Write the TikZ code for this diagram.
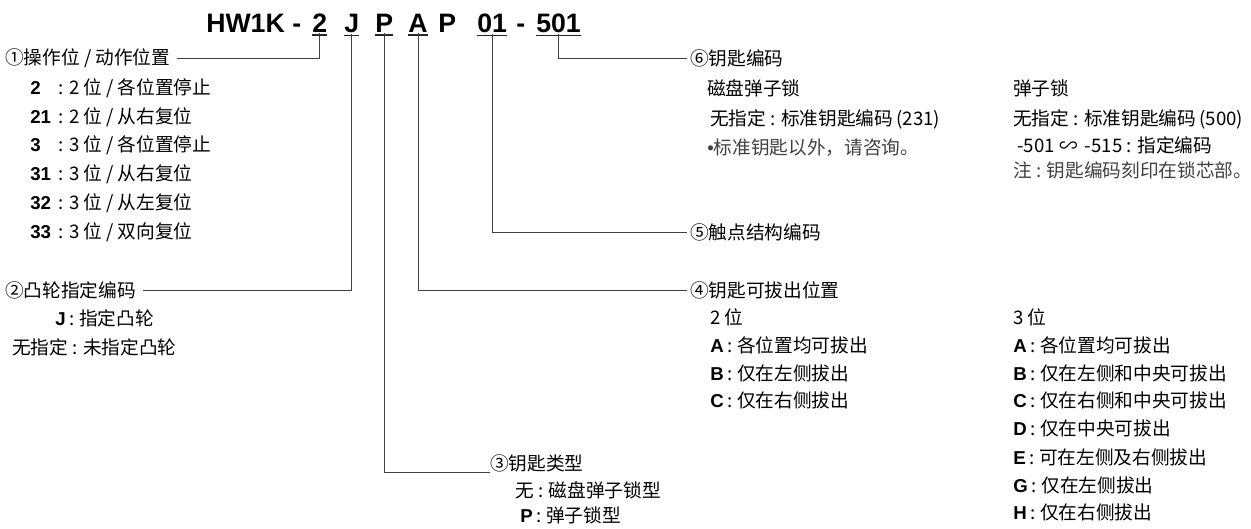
\documentclass[tikz,border=0pt]{standalone}
\usepackage{fontspec}
\setmainfont{Noto Sans CJK SC}
\newfontfamily\lat{Liberation Sans}
\newcommand{\clave}[1]{{\lat\bfseries #1}}

\begin{document}
\begin{tikzpicture}[x=0.75pt,y=-0.75pt,
	txt/.style={anchor=west,inner sep=0pt,font=\fontsize{14}{16}\selectfont},
	nota/.style={txt,text=black!75},
	cod/.style={anchor=base west,inner sep=0pt,font=\lat\bfseries\fontsize{20}{24}\selectfont},
	guia/.style={draw=black!75,line width=0.6pt},
	raya/.style={draw=black!85,line width=0.9pt}]
	
	\useasboundingbox (0,0) rectangle (1251,528);
	
	% Modelo
	\node[cod] (hw) at (206,33) {HW1K};
	\node[cod] (g1) at (292,33) {-};
	\node[cod] (c2) at (312,33) {2};
	\node[cod] (cJ) at (344,33) {J};
	\node[cod] (cP) at (375,33) {P};
	\node[cod] (cA) at (408,33) {A};
	\node[cod] (cPb) at (438,33) {P};
	\node[cod] (c01) at (477,33) {01};
	\node[cod] (g2) at (516,33) {-};
	\node[cod] (c501) at (536,33) {501};
	
	% Subrayados
	\draw[raya] ([yshift=-1.3pt]c2.south west) -- ([yshift=-1.3pt]c2.south east);
	\draw[raya] ([yshift=-1.3pt]cJ.south west) -- ([yshift=-1.3pt]cJ.south east);
	\draw[raya] ([yshift=-1.3pt]cP.south west) -- ([yshift=-1.3pt]cP.south east);
	\draw[raya] ([yshift=-1.3pt]cA.south west) -- ([yshift=-1.3pt]cA.south east);
	\draw[raya] ([yshift=-1.3pt]c01.south west) -- ([yshift=-1.3pt]c01.south east);
	\draw[raya] ([yshift=-1.3pt]c501.south west) -- ([yshift=-1.3pt]c501.south east);
	
	% Titulos
	\node[txt] (t1) at (5,58.5) {①操作位 / 动作位置};
	\node[txt] (t2) at (5,290) {②凸轮指定编码};
	\node[txt] (t3) at (490,463) {③钥匙类型};
	\node[txt] (t4) at (690,290) {④钥匙可拔出位置};
	\node[txt] (t5) at (690,232) {⑤触点结构编码};
	\node[txt] (t6) at (690,58) {⑥钥匙编码};
	
	% Guias
	\draw[guia,shorten >=5pt] (c2.south) |- (t1.east);
	\draw[guia,shorten >=5pt] (cJ.south) |- (t2.east);
	\draw[guia] (cP.south) |- (t3.south west);
	\draw[guia,shorten >=2pt] (cA.south) |- (t4.west);
	\draw[guia,shorten >=2pt] (c01.south) |- (t5.west);
	\draw[guia,shorten >=2pt] (c501.south) |- (t6.west);
	
	% Posiciones
	\node[txt] (r2) at (30,88) {\clave{2\phantom{1}}\, : 2 位 / 各位置停止};
	\node[txt] (r21) at (30,116.8) {\clave{21}\, : 2 位 / 从右复位};
	\node[txt] (r3) at (30,145.6) {\clave{3\phantom{1}}\, : 3 位 / 各位置停止};
	\node[txt] (r31) at (30,174.4) {\clave{31}\, : 3 位 / 从右复位};
	\node[txt] (r32) at (30,203.2) {\clave{32}\, : 3 位 / 从左复位};
	\node[txt] (r33) at (30,232) {\clave{33}\, : 3 位 / 双向复位};
	
	% Leva
	\node[txt] (rJ) at (55,318) {\clave{J} : 指定凸轮};
	\node[txt] (rJn) at (12,347) {无指定 : 未指定凸轮};
	
	% Tipo de llave
	\node[txt] (rPn) at (515,490) {无 : 磁盘弹子锁型};
	\node[txt] (rP) at (520,515) {\clave{P} : 弹子锁型};
	
	% Extraccion, 2 posiciones
	\node[txt] (p2) at (710,317) {2 位};
	\node[txt] (p2A) at (710,345) {\clave{A} : 各位置均可拔出};
	\node[txt] (p2B) at (710,373) {\clave{B} : 仅在左侧拔出};
	\node[txt] (p2C) at (710,400) {\clave{C} : 仅在右侧拔出};
	
	% Extraccion, 3 posiciones
	\node[txt] (p3) at (1013,317) {3 位};
	\node[txt] (p3A) at (1013,345) {\clave{A} : 各位置均可拔出};
	\node[txt] (p3B) at (1013,373) {\clave{B} : 仅在左侧和中央可拔出};
	\node[txt] (p3C) at (1013,400) {\clave{C} : 仅在右侧和中央可拔出};
	\node[txt] (p3D) at (1013,428) {\clave{D} : 仅在中央可拔出};
	\node[txt] (p3E) at (1013,457) {\clave{E} : 可在左侧及右侧拔出};
	\node[txt] (p3G) at (1013,485) {\clave{G} : 仅在左侧拔出};
	\node[txt] (p3H) at (1013,512) {\clave{H} : 仅在右侧拔出};
	
	% Codigo de llave
	\node[txt] (k1) at (707,88) {磁盘弹子锁};
	\node[txt] (k1a) at (710,119) {无指定 : 标准钥匙编码\,(231)};
	\node[nota] (k1b) at (707,148) {{\lat•}标准钥匙以外，请咨询。};
	\node[txt] (k2) at (1013,88) {弹子锁};
	\node[txt] (k2a) at (1013,119) {无指定 : 标准钥匙编码\,(500)};
	\node[txt] (k2b) at (1017,145) {-501 ∽ \,-515 : 指定编码};
	\node[nota] (k2c) at (1013,170) {注 : 钥匙编码刻印在锁芯部。};
	
\end{tikzpicture}
\end{document}
